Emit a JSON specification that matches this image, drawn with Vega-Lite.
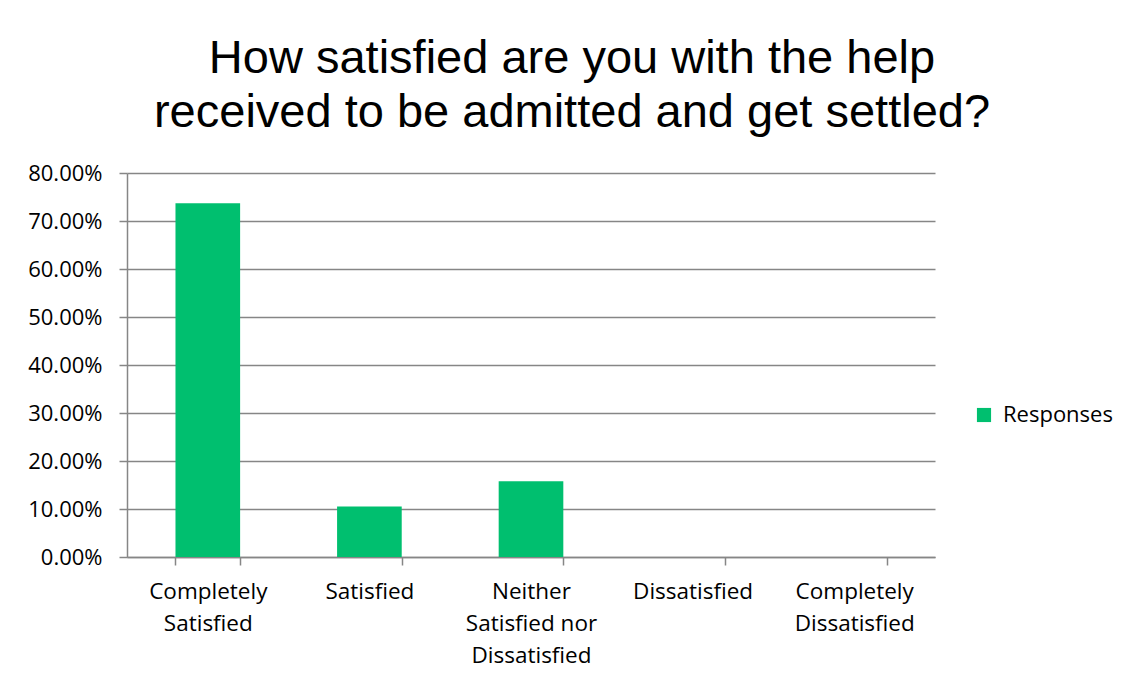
{
  "$schema": "https://vega.github.io/schema/vega-lite/v6.json",
  "width": 808,
  "height": 384,
  "autosize": {"type": "none"},
  "padding": {"left": 127, "top": 173, "right": 191, "bottom": 128},
  "background": "white",
  "title": {
    "text": ["How satisfied are you with the help", "received to be admitted and get settled?"],
    "font": "Liberation Sans",
    "fontSize": 47,
    "fontWeight": "normal",
    "color": "#000000",
    "lineHeight": 54,
    "anchor": "middle",
    "dx": 41,
    "offset": 25
  },
  "data": {
    "values": [
      {"category": "Completely Satisfied", "value": 0.7368, "series": "Responses"},
      {"category": "Satisfied", "value": 0.1053, "series": "Responses"},
      {"category": "Neither Satisfied nor Dissatisfied", "value": 0.1579, "series": "Responses"},
      {"category": "Dissatisfied", "value": 0, "series": "Responses"},
      {"category": "Completely Dissatisfied", "value": 0, "series": "Responses"}
    ]
  },
  "mark": {"type": "bar"},
  "encoding": {
    "x": {
      "field": "category",
      "type": "nominal",
      "sort": null,
      "title": null,
      "scale": {"paddingInner": 0.6, "paddingOuter": 0.3},
      "axis": {
        "labelAngle": 0,
        "tickBand": "extent",
        "labelFont": "Open Sans",
        "labelFontSize": 22.5,
        "labelColor": "#000000",
        "labelLineHeight": 32,
        "labelPadding": 15,
        "labelBaseline": "top",
        "tickSize": 8,
        "tickColor": "#868686",
        "tickWidth": 1.5,
        "domainColor": "#868686",
        "domainWidth": 1.5,
        "labelExpr": "datum.label == 'Completely Satisfied' ? ['Completely','Satisfied'] : datum.label == 'Neither Satisfied nor Dissatisfied' ? ['Neither','Satisfied nor','Dissatisfied'] : datum.label == 'Completely Dissatisfied' ? ['Completely','Dissatisfied'] : datum.label"
      }
    },
    "y": {
      "field": "value",
      "type": "quantitative",
      "title": null,
      "scale": {"domain": [0, 0.8]},
      "axis": {
        "format": ".2%",
        "values": [0, 0.1, 0.2, 0.3, 0.4, 0.5, 0.6, 0.7, 0.8],
        "labelFont": "Open Sans",
        "labelFontSize": 22,
        "labelColor": "#000000",
        "labelPadding": 17,
        "tickSize": 8,
        "tickColor": "#868686",
        "tickWidth": 1.5,
        "domainColor": "#868686",
        "domainWidth": 1.5,
        "grid": true,
        "gridColor": "#868686",
        "gridWidth": 1.5
      }
    },
    "color": {
      "field": "series",
      "type": "nominal",
      "scale": {"range": ["#00BF6F"]},
      "legend": {
        "title": null,
        "orient": "none",
        "legendX": 846,
        "legendY": 231,
        "symbolType": "square",
        "symbolSize": 200,
        "symbolStrokeWidth": 0,
        "labelFont": "Open Sans",
        "labelFontSize": 22,
        "labelColor": "#000000",
        "labelOffset": 8,
        "padding": 0
      }
    }
  },
  "config": {
    "view": {"stroke": null}
  }
}
